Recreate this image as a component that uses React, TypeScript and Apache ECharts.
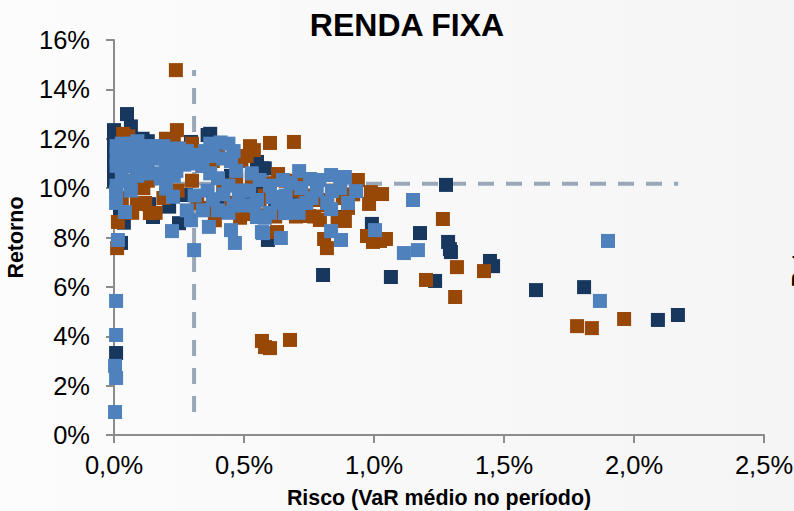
import React, { useEffect, useRef } from "react";
import * as echarts from "echarts";

const title = "RENDA FIXA";
const xName = "Risco (VaR médio no período)";
const yName = "Retorno";
const neighbourLabel = "Retorno";
const refVertical = [[0.308, 14.78], [0.308, 0.93]];
const refHorizontal = [[0, 10.18], [2.17, 10.18]];

const navy = [
  [1.277,10.13],[0.992,8.55],[1.177,8.18],[1.285,7.82],[1.292,7.53],[1.296,7.41],[1.446,7.05],[1.458,6.84],
  [0.804,6.48],[1.065,6.4],[1.235,6.24],[1.623,5.87],[1.808,5.99],[2.092,4.66],[2.169,4.86],[0.008,3.32],
  [0.05,13],[0.065,12.5],[0,12.35],[0,12],[0,11.6],[0,11.2],[0,10.8],[0,10.3],[0.37,12.2],[0.36,12.15],[0.296,11.87],
  [0.212,9.25],[0.25,8.58],[0.15,8.83],[0.135,9.35],[0.277,9.72],[0.027,7.78],[0.038,8.6],[0.592,7.9],[0.58,10.8],
  [0.11,12],[0.42,9.5],[0.023,9],[0.55,11.06],[0.57,10.8],[0.57,9.9],[0.885,8.83],[0.06,12.1],[0.13,11.9],[0.2,11.5],
  [0.3,11.2],[0.45,10.5],[0.5,9.7],[0.62,9.4],[0.7,9.8],[0.08,10.9],
];

const brown = [
  [0.238,14.78],[0.242,12.35],[0.6,11.83],[0.692,11.87],[0.938,10.33],[0.988,9.84],[1.031,9.76],[0.981,9.36],
  [1.265,8.75],[0.973,8.06],[0.996,7.82],[1.023,7.86],[1.046,7.94],[1.319,6.8],[1.423,6.64],[1.2,6.28],[1.312,5.59],
  [1.781,4.41],[1.838,4.33],[1.962,4.7],[0.569,3.81],[0.581,3.56],[0.6,3.52],[0.677,3.85],[0.808,7.94],[0.819,7.57],
  [0.888,8.67],[0.792,8.71],[0.75,8.87],[0.715,8.95],[0.627,8.22],[0.6,8.91],[0.631,10.57],[0.538,11.54],[0.523,11.7],
  [0.715,10.13],[0.76,9.64],[0.792,9.52],[0.88,9.6],[0.015,8.63],[0.012,7.57],[0.138,8.99],[0.088,9.36],[0.035,12.2],
  [0.2,12],[0.388,8.7],[0.485,8.8],[0.51,11.3],[0.38,11.1],[0.3,10.3],[0.113,10],[0.088,10.5],[0.055,12.1],[0.3,11.8],
  [0.23,11.9],[0.27,11.6],[0.34,10.9],[0.4,11.3],[0.49,11.1],[0.53,10.4],[0.47,10.3],[0.45,9.4],[0.36,9.2],[0.52,8.95],
  [0.56,9.5],[0.64,9.1],[0.68,9.9],[0.73,9.7],[0.82,9.3],[0.86,8.8],[0.84,9.9],[0.66,10.3],[0.6,10.2],[0.58,9.7],
  [0.415,9.05],[0.16,9.0],[0.19,9.6],[0.245,9.9],[0.13,10.3],[0.42,10.1],[0.07,9.0],[0.03,9.6],[0.32,9.4],[0.55,8.9],
  [0.77,8.85],[0.7,8.85],[0.62,8.85],[0.9,9.2],[0.92,9.75],[0.12,9.4],
];

const blue = [
  [0.008,5.43],[0.008,4.05],[0.004,2.8],[0.008,2.31],[0.004,0.93],[1.9,7.86],[1.869,5.43],[1.15,9.52],[1.004,8.3],
  [1.169,7.49],[1.115,7.37],[0.931,9.88],[0.9,9.4],[0.835,9.15],[0.835,8.26],[0.873,7.9],[0.712,10.69],[0.835,10.53],
  [0.888,10.45],[0.642,7.98],[0.569,8.22],[0.754,10.37],[0.79,10.33],[0.838,9.88],[0.677,9.23],[0.658,8.99],[0.55,8.83],
  [0.55,9.52],[0.61,9.64],[0.65,10.33],[0.56,10.33],[0.223,8.26],[0.308,7.49],[0.365,8.43],[0.45,8.3],[0.465,7.78],
  [0.573,8.18],[0.015,7.9],[0.042,9.03],[0.008,9.4],[0.008,9.85],[0.065,9.9],[0.227,9.65],[0.2,9.98],[0.28,9.1],
  [0.296,8.7],[0.342,9.1],[0.31,9.7],[0.36,9.9],[0.42,9.75],[0.48,9.6],[0.54,9.3],[0.5,9.3],[0.44,9.0],[0.4,9.1],
  [0.6,9.0],[0.63,9.4],[0.7,9.3],[0.74,9.4],[0.78,9.9],[0.72,10],[0.68,10.2],[0.6,10.1],[0.53,10.6],[0.49,9.9],
  [0.44,10.1],[0.37,10.6],[0.34,10.9],[0.24,10.7],[0.2,10.8],[0.18,10.4],[0.15,10.6],[0.12,10.6],
  [0.09,10.5],[0.06,10.3],[0.03,10.6],[0.01,10.1],[0.01,10.9],[0.01,11.3],[0.01,11.7],[0.03,11.8],[0.05,11.4],[0.05,11.0],
  [0.07,11.8],[0.09,11.9],[0.1,11.4],[0.1,11.0],[0.13,11.7],[0.13,11.2],[0.16,11.7],[0.16,11.2],[0.19,11.7],[0.19,11.2],
  [0.22,11.6],[0.22,11.1],[0.25,11.6],[0.25,11.2],[0.28,11.5],[0.3,11.0],[0.31,11.35],[0.35,11.5],[0.37,11.8],[0.41,11.85],
  [0.44,11.8],[0.46,11.5],[0.42,11.2],[0.38,11.3],[0.45,11.1],[0.4,10.4],[0.47,10.7],[0.52,9.9],[0.66,9.7],[0.82,9.4],
  [0.76,9.6],[0.87,10.0],[0.71,9.0],[0.58,8.8],[0.13,10.9],[0.06,11.6],[0.08,10.9],[0.03,11.1],[0.11,11.7],[0.15,11.45],
  [0.2,11.45],[0.27,10.95],[0.33,11.1],[0.23,10.5],[0.46,9.3],[0.38,9.55],
];

const tooltipOff = { silent: true };

export default function App() {
  const ref = useRef<HTMLDivElement>(null);
  useEffect(() => {
    const chart = echarts.init(ref.current!, undefined, { renderer: "svg" });
    const axisStyle = { lineStyle: { color: "#8C8C8C", width: 2 } };
    const scatter = (name: string, data: number[][], color: string, z: number) => ({
      name, type: "scatter", data, symbol: "rect", symbolSize: 14, z,
      itemStyle: { color, opacity: 1 }, clip: false, ...tooltipOff,
    });
    const refLine = (name: string, data: number[][], dashOffset: number) => ({
      name, type: "line", data, showSymbol: false, symbol: "none", z: 1, ...tooltipOff,
      lineStyle: { color: "#9AA7B8", width: 4, type: [16, 12], dashOffset },
    });
    chart.setOption({
      animation: false,
      backgroundColor: {
        type: "linear", x: 0, y: 0, x2: 1, y2: 0,
        colorStops: [{ offset: 0, color: "#FCFCFD" }, { offset: 1, color: "#F5F5F6" }],
      },
      textStyle: { fontFamily: "Liberation Sans" },
      title: {
        text: title, left: 402, top: 4, textAlign: "center",
        textStyle: { fontFamily: "Liberation Sans", fontWeight: "bold", fontSize: 32, color: "#000" },
      },
      grid: { left: 114, top: 40, width: 650, height: 395, outerBoundsMode: "none" },
      xAxis: {
        type: "value", min: 0, max: 2.5, interval: 0.5,
        splitLine: { show: false },
        axisLine: { onZero: false, ...axisStyle },
        axisTick: { show: true, length: 8, ...axisStyle },
        axisLabel: {
          fontSize: 25.5, color: "#000", margin: 17, fontFamily: "Liberation Sans",
          formatter: (v: number) => v.toFixed(1).replace(".", ",") + "%",
        },
        name: xName, nameLocation: "middle", nameGap: 52,
        nameTextStyle: { fontWeight: "bold", fontSize: 21.4, color: "#000", fontFamily: "Liberation Sans" },
      },
      yAxis: {
        type: "value", min: 0, max: 16, interval: 2,
        splitLine: { show: false },
        axisLine: { onZero: false, ...axisStyle },
        axisTick: { show: true, length: 8, ...axisStyle },
        axisLabel: {
          fontSize: 25.5, color: "#000", margin: 24, fontFamily: "Liberation Sans",
          formatter: (v: number) => v + "%",
        },
        name: yName, nameLocation: "middle", nameGap: 88, nameRotate: 90,
        nameTextStyle: { fontWeight: "bold", fontSize: 21.4, color: "#000", fontFamily: "Liberation Sans" },
      },
      graphic: [{
        type: "text", x: 798, y: 247, rotation: Math.PI / 2, silent: true,
        style: {
          text: neighbourLabel, fill: "#000", textAlign: "center", textVerticalAlign: "middle",
          font: "bold 21px 'Liberation Sans'",
        },
      }],
      series: [
        refLine("Ref V", refVertical, 10),
        refLine("Ref H", refHorizontal, 0),
        scatter("A", navy, "#17375E", 2),
        scatter("B", brown, "#974706", 3),
        scatter("C", blue, "#4F81BD", 4),
      ],
    });
    return () => chart.dispose();
  }, []);
  return <div ref={ref} style={{ position: "fixed", left: 0, top: 0, width: 794, height: 511 }} />;
}
